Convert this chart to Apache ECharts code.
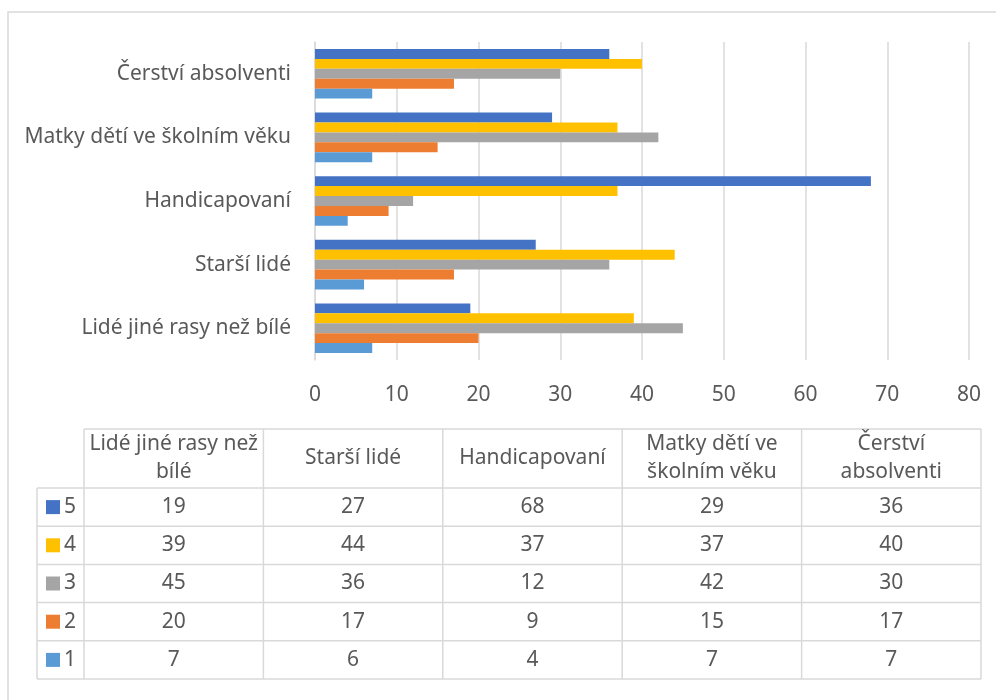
<!DOCTYPE html>
<html><head><meta charset="utf-8">
<script src="https://cdn.jsdelivr.net/npm/echarts@6/dist/echarts.min.js"></script>
<style>html,body{margin:0;padding:0;background:#fff}#c{width:996px;height:700px}</style>
</head><body><div id="c"></div>
<script>
// ---- data ----
const categories = ['Lidé jiné rasy než bílé', 'Starší lidé', 'Handicapovaní', 'Matky dětí ve školním věku', 'Čerství absolventi'];
const tableHeaders = ['Lidé jiné rasy než\nbílé', 'Starší lidé', 'Handicapovaní', 'Matky dětí ve\nškolním věku', 'Čerství\nabsolventi'];
const seriesNames = ['1', '2', '3', '4', '5'];
const s1 = [7, 6, 4, 7, 7];
const s2 = [20, 17, 9, 15, 17];
const s3 = [45, 36, 12, 42, 30];
const s4 = [39, 44, 37, 37, 40];
const s5 = [19, 27, 68, 29, 36];
const xMin = 0, xMax = 80, xInterval = 10;

// ---- styles ----
const seriesValues = [s1, s2, s3, s4, s5];
const colors = ['#5B9BD5', '#ED7D31', '#A5A5A5', '#FFC000', '#4472C4'];
const FONT = 'Noto Sans';
const FS = 21;
const TXT = '#595959';
const LINE = '#D9D9D9';

const chart = echarts.init(document.getElementById('c'), null, {renderer: 'canvas'});

// table layout
const tLeft = 37, tKeyRight = 84, colW = 179.4, hTop = 429, hBottom = 488, rowH = 38.2;
const nCols = categories.length, nRows = seriesNames.length;
const tRight = tKeyRight + colW * nCols;
const tBottom = hBottom + rowH * nRows;
const graphics = [];
graphics.push({type: 'rect', shape: {x: 8, y: 12, width: 1000, height: 700}, style: {fill: null, stroke: LINE, lineWidth: 1.5}, silent: true});
function hline(x1, x2, y) { graphics.push({type: 'line', shape: {x1, y1: y, x2, y2: y}, style: {stroke: LINE, lineWidth: 1.5}, silent: true}); }
function vline(x, y1, y2) { graphics.push({type: 'line', shape: {x1: x, y1, x2: x, y2}, style: {stroke: LINE, lineWidth: 1.5}, silent: true}); }
hline(tKeyRight, tRight, hTop);
for (let r = 0; r <= nRows; r++) hline(tLeft, tRight, hBottom + r * rowH);
vline(tLeft, hBottom, tBottom);
for (let c = 0; c <= nCols; c++) vline(tKeyRight + c * colW, hTop, tBottom);
tableHeaders.forEach((h, c) => {
  graphics.push({type: 'text', x: tKeyRight + (c + 0.5) * colW, y: (hTop + hBottom) / 2,
    style: {text: h, fontFamily: FONT, fontSize: FS, fill: TXT, align: 'center', verticalAlign: 'middle', lineHeight: 28}, silent: true});
});
for (let r = 0; r < nRows; r++) {
  const si = nRows - 1 - r;
  const cy = hBottom + (r + 0.5) * rowH;
  graphics.push({type: 'rect', shape: {x: 46, y: cy - 7, width: 14, height: 14}, style: {fill: colors[si]}, silent: true});
  graphics.push({type: 'text', x: 64, y: cy, style: {text: seriesNames[si], fontFamily: FONT, fontSize: FS, fill: TXT, align: 'left', verticalAlign: 'middle'}, silent: true});
  seriesValues[si].forEach((v, c) => {
    graphics.push({type: 'text', x: tKeyRight + (c + 0.5) * colW, y: cy,
      style: {text: String(v), fontFamily: FONT, fontSize: FS, fill: TXT, align: 'center', verticalAlign: 'middle'}, silent: true});
  });
}

// series drawn top-to-bottom within each band: 5,4,3,2,1
const order = [4, 3, 2, 1, 0];
const option = {
  backgroundColor: '#fff',
  animation: false,
  textStyle: {fontFamily: FONT},
  grid: {left: 315, top: 42, width: 654, height: 318, containLabel: false},
  xAxis: {
    type: 'value', min: xMin, max: xMax, interval: xInterval,
    axisLine: {show: false}, axisTick: {show: false},
    axisLabel: {fontSize: FS, color: TXT, margin: 25, fontFamily: FONT},
    splitLine: {show: true, lineStyle: {color: LINE, width: 1.5}}
  },
  yAxis: {
    type: 'category', data: categories,
    axisLine: {show: true, lineStyle: {color: LINE, width: 1.5}}, axisTick: {show: false},
    axisLabel: {fontSize: FS, color: TXT, margin: 24, fontFamily: FONT}
  },
  series: order.map(i => ({
    name: seriesNames[i], type: 'bar', data: seriesValues[i],
    itemStyle: {color: colors[i]},
    barGap: '0%', barCategoryGap: '22%'
  })),
  graphic: graphics
};
chart.setOption(option);
</script>
</body></html>
